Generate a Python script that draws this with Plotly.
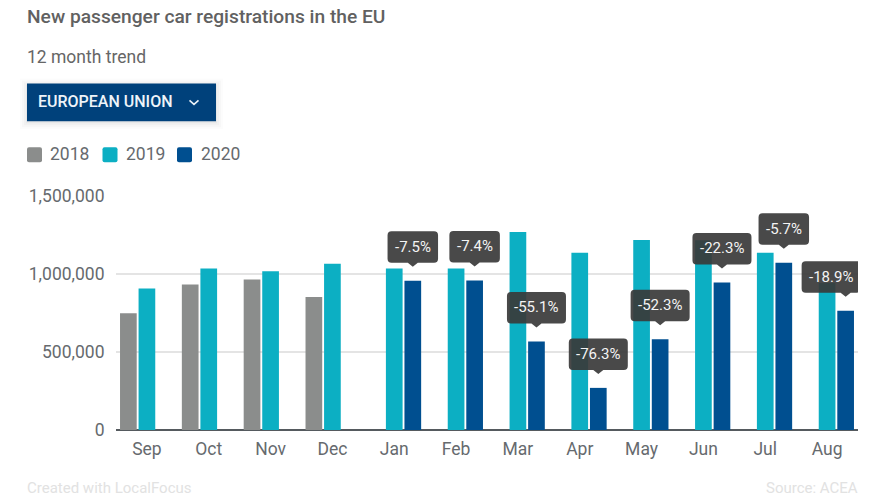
import plotly.graph_objects as go

months = ["Sep", "Oct", "Nov", "Dec", "Jan", "Feb", "Mar", "Apr", "May", "Jun", "Jul", "Aug"]
y2018 = [748000, 932000, 965000, 852000, None, None, None, None, None, None, None, None]
y2019 = [907000, 1036000, 1018000, 1066000, 1036000, 1036000, 1270000, 1137000, 1218000, 1217000, 1137000, 943000]
y2020 = [None, None, None, None, 957000, 959000, 568000, 270000, 581000, 946000, 1072000, 765000]
changes = [None, None, None, None, "-7.5%", "-7.4%", "-55.1%", "-76.3%", "-52.3%", "-22.3%", "-5.7%", "-18.9%"]
series_names = ["2018", "2019", "2020"]
GRAY, TEAL, NAVY = "#8b8d8c", "#0cafc3", "#004f90"
colors = [GRAY, TEAL, NAVY]
W, H = 880, 498
L, R, T, B = 116, 858, 195.5, 430.5
FONT = "Roboto"
xs = list(range(len(months)))


def px(x):
    return (x - L) / (R - L)


def py(y):
    return (B - y) / (B - T)


fig = go.Figure()
for name, vals, col in zip(series_names, [y2018, y2019, y2020], colors):
    fig.add_bar(x=xs, y=vals, name=name, marker=dict(color=col, line_width=0), showlegend=False)

shapes = []
annots = []


def rounded(x0, y0, x1, y1, r):
    return (f"M{x0+r},{y0} L{x1-r},{y0} Q{x1},{y0} {x1},{y0+r} L{x1},{y1-r} Q{x1},{y1} {x1-r},{y1} "
            f"L{x0+r},{y1} Q{x0},{y1} {x0},{y1-r} L{x0},{y0+r} Q{x0},{y0} {x0+r},{y0} Z")


def page_text(x, y, text, size, color, anchor="left", weight=None):
    font = dict(family=FONT, size=size, color=color)
    if weight:
        font["weight"] = weight
    annots.append(dict(x=px(x), y=py(y), xref="paper", yref="paper", xanchor=anchor, yanchor="middle",
                       text=text, showarrow=False, font=font, borderpad=0, borderwidth=0))


# tooltips anchored on the 2020 bars
slot = 0.3
for i, label in enumerate(changes):
    if label is None:
        continue
    w = 59 if len(label) == 6 else 50.5
    cx = i + slot
    shift = -14.5 if i == len(months) - 1 else 0
    x0, x1 = shift - w / 2, shift + w / 2
    r = 4
    bot, top, tip = 18, 49.5, 14
    path = (f"M{x0+r},{top} L{x1-r},{top} Q{x1},{top} {x1},{top-r} L{x1},{bot+r} Q{x1},{bot} {x1-r},{bot} "
            f"L5,{bot} L0,{tip} L-5,{bot} L{x0+r},{bot} Q{x0},{bot} {x0},{bot+r} L{x0},{top-r} Q{x0},{top} {x0+r},{top} Z")
    shapes.append(dict(type="path", xref="x", yref="y", xsizemode="pixel", ysizemode="pixel",
                       xanchor=cx, yanchor=y2020[i], path=path, fillcolor="rgba(58,58,58,0.92)",
                       line_width=0, layer="above"))
    annots.append(dict(x=cx, y=y2020[i], xref="x", yref="y", text=label, showarrow=False,
                       xshift=shift, yshift=34, font=dict(family=FONT, size=15, color="#f4f4f4")))

# dropdown button with a soft shadow
for grow, alpha in [(7, 0.012), (5, 0.018), (3, 0.025), (1, 0.035)]:
    shapes.append(dict(type="rect", xref="paper", yref="paper", x0=px(27 - grow), x1=px(216 + grow),
                       y0=py(120.5 + grow + 1), y1=py(82.5 - grow + 2), fillcolor=f"rgba(0,0,0,{alpha})", line_width=0))
shapes.append(dict(type="rect", xref="paper", yref="paper", x0=px(27), x1=px(216), y0=py(120.5), y1=py(82.5),
                   fillcolor="#00417b", line_width=0))
shapes.append(dict(type="path", xref="paper", yref="paper", xsizemode="pixel", ysizemode="pixel",
                   xanchor=px(194), yanchor=py(101), path="M-4.5,1.5 L0,-2.5 L4.5,1.5",
                   line=dict(color="#eaf2f8", width=1.6), fillcolor="rgba(0,0,0,0)"))
page_text(38, 100.5, "EUROPEAN UNION", 16, "#eef4f9", weight=500)

# legend
for name, col, sx, tx in zip(series_names, colors, [27, 102.5, 177], [50, 126, 201]):
    shapes.append(dict(type="path", xref="paper", yref="paper", xsizemode="pixel", ysizemode="pixel",
                       xanchor=px(sx), yanchor=py(154), path=rounded(0, -7.5, 15, 7.5, 2), fillcolor=col, line_width=0))
    page_text(tx, 153.5, name, 17.5, "#666a6e")

# texts
page_text(27, 55.5, "12 month trend", 17.5, "#666666")
page_text(27, 488.5, "Created with LocalFocus", 15, "#e2e2e2")
page_text(858, 488.5, "Source: ACEA", 15, "#e2e2e2", anchor="right")

fig.update_layout(
    width=W, height=H, autosize=False,
    margin=dict(l=L, r=W - R, t=T, b=H - B, pad=0),
    paper_bgcolor="white", plot_bgcolor="white",
    barmode="group", bargap=0.1, bargroupgap=0.1,
    title=dict(text="New passenger car registrations in the EU", x=27 / W, xanchor="left",
               y=1 - 16.5 / H, yanchor="middle", font=dict(family=FONT, size=19.2, color="#616161", weight=500)),
    shapes=shapes, annotations=annots,
    xaxis=dict(range=[-0.5, 11.5], tickmode="array", tickvals=xs, ticktext=months, showgrid=False, zeroline=False,
               showline=False, ticks="outside", ticklen=3, tickcolor="rgba(0,0,0,0)",
               tickfont=dict(family=FONT, size=17.5, color="#666a6e")),
    yaxis=dict(range=[0, 1500000], tickmode="array", tickvals=[0, 500000, 1000000, 1500000],
               ticktext=["0", "500,000", "1,000,000", "1,500,000"], gridcolor="#e4e4e4", gridwidth=1.5,
               zeroline=True, zerolinecolor="#555a5e", zerolinewidth=1.5, showline=False,
               ticks="outside", ticklen=7, tickcolor="rgba(0,0,0,0)",
               tickfont=dict(family=FONT, size=17.5, color="#666a6e")),
)
fig.write_html("out.html", config=dict(displayModeBar=False),
               post_script="document.body.style.margin='0';document.body.style.overflow='hidden';")
